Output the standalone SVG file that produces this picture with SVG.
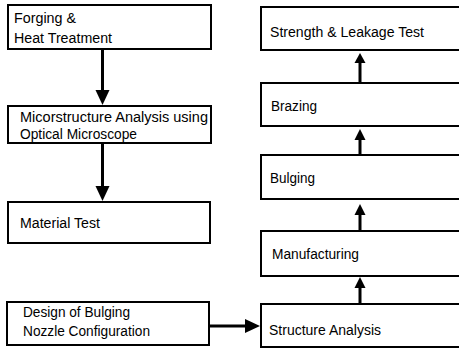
<svg xmlns="http://www.w3.org/2000/svg" width="459" height="351" viewBox="0 0 459 351">
<style>
.box{fill:#fff;stroke:#000;stroke-width:2}
.t{font-family:"Liberation Sans",Arial,sans-serif;font-size:15.5px;fill:#000}
.ln{stroke:#000;stroke-width:3;fill:none}
.hd{fill:#000;stroke:none}
</style>
<rect width="459" height="351" fill="#fff"/>
<g id="n1"><rect class="box" x="8" y="5" width="203" height="44"/><text class="t" x="14" y="23" textLength="62" lengthAdjust="spacingAndGlyphs">Forging &amp;</text><text class="t" x="14" y="43" textLength="98" lengthAdjust="spacingAndGlyphs">Heat Treatment</text></g>
<g id="n2"><rect class="box" x="8" y="106" width="203" height="37"/><text class="t" x="20" y="122" textLength="188" lengthAdjust="spacingAndGlyphs">Micorstructure Analysis using</text><text class="t" x="20" y="139" textLength="117" lengthAdjust="spacingAndGlyphs">Optical Microscope</text></g>
<g id="n3"><rect class="box" x="8" y="202" width="202" height="41"/><text class="t" x="20" y="228" textLength="80" lengthAdjust="spacingAndGlyphs">Material Test</text></g>
<g id="n4"><rect class="box" x="7" y="302" width="202" height="43"/><text class="t" x="23" y="317" textLength="107" lengthAdjust="spacingAndGlyphs">Design of Bulging</text><text class="t" x="23" y="336" textLength="127" lengthAdjust="spacingAndGlyphs">Nozzle Configuration</text></g>
<g id="r1"><rect class="box" x="261" y="7" width="202" height="43"/><text class="t" x="270" y="37" textLength="154" lengthAdjust="spacingAndGlyphs">Strength &amp; Leakage Test</text></g>
<g id="r2"><rect class="box" x="261" y="83" width="202" height="43"/><text class="t" x="271" y="111" textLength="46" lengthAdjust="spacingAndGlyphs">Brazing</text></g>
<g id="r3"><rect class="box" x="261" y="155" width="202" height="44"/><text class="t" x="270" y="183" textLength="45" lengthAdjust="spacingAndGlyphs">Bulging</text></g>
<g id="r4"><rect class="box" x="261" y="231" width="202" height="45"/><text class="t" x="272" y="259" textLength="87" lengthAdjust="spacingAndGlyphs">Manufacturing</text></g>
<g id="r5"><rect class="box" x="261" y="304" width="202" height="43"/><text class="t" x="269" y="335" textLength="112" lengthAdjust="spacingAndGlyphs">Structure Analysis</text></g>
<g id="connectors">
<line class="ln" x1="102.5" y1="49" x2="102.5" y2="92"/><polygon class="hd" points="95.5,90 109.5,90 102.5,105"/>
<line class="ln" x1="102.5" y1="143" x2="102.5" y2="188"/><polygon class="hd" points="95.5,186 109.5,186 102.5,201"/>
<line class="ln" x1="209" y1="326" x2="247" y2="326"/><polygon class="hd" points="245,319 245,333 260,326"/>
<line class="ln" x1="360" y1="304" x2="360" y2="286"/><polygon class="hd" points="354.5,288 365.5,288 360,277"/>
<line class="ln" x1="360" y1="231" x2="360" y2="213"/><polygon class="hd" points="354.5,215 365.5,215 360,204"/>
<line class="ln" x1="360" y1="155" x2="360" y2="138"/><polygon class="hd" points="354.5,140 365.5,140 360,129"/>
<line class="ln" x1="360" y1="83" x2="360" y2="61"/><polygon class="hd" points="354.5,63 365.5,63 360,53"/>
</g>
</svg>
